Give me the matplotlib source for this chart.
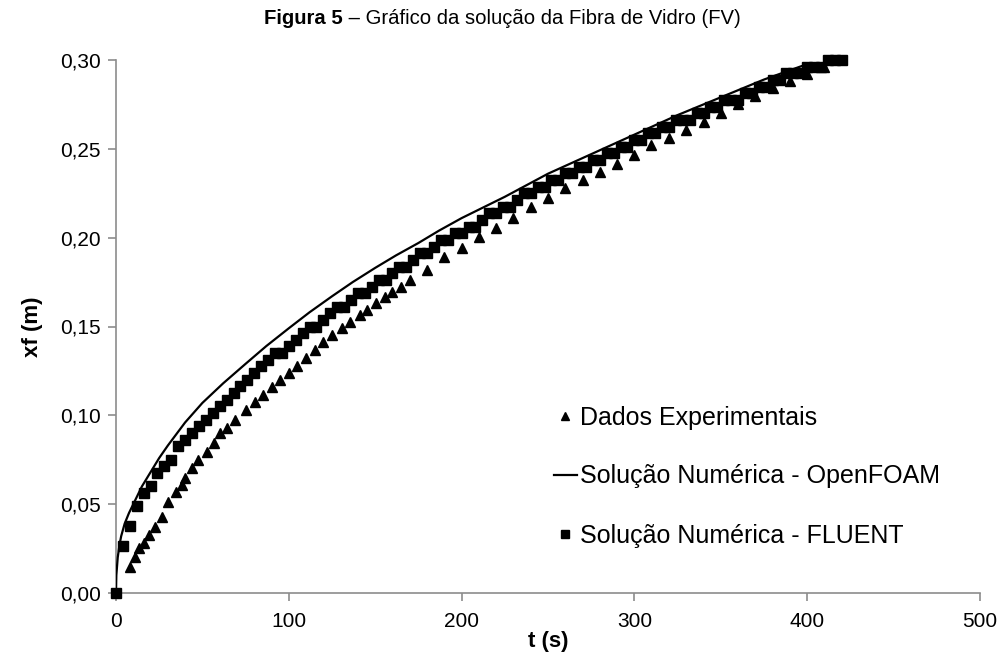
import matplotlib.pyplot as plt
from matplotlib.ticker import FuncFormatter

plt.rcParams['font.family'] = ['Liberation Sans', 'DejaVu Sans']

# Dados Experimentais (triangulos)
t_exp = [8, 11, 13.5, 16, 19, 22.5, 26.5, 30, 35, 38, 40, 44, 47.5, 52.5, 56.5, 60, 64, 69, 75, 80.5,
         85, 90, 95, 100, 105, 110, 115, 120, 125, 130.5, 135.5, 141, 145.5, 150.5, 155.5, 160, 165, 170,
         180, 190, 200, 210, 220, 230, 240, 250, 260, 270, 280, 290, 300, 309.5, 320, 330, 340, 350,
         360, 370, 380, 390, 400, 410]
xf_exp = [0.0148, 0.0204, 0.0251, 0.0280, 0.0326, 0.0373, 0.0430, 0.0514, 0.0570, 0.0608, 0.0645,
          0.0702, 0.0749, 0.0795, 0.0843, 0.0899, 0.0927, 0.0974, 0.1030, 0.1077, 0.1114, 0.1161,
          0.1199, 0.1240, 0.1280, 0.1325, 0.1370, 0.1410, 0.1452, 0.1490, 0.1527, 0.1565, 0.1593,
          0.1631, 0.1668, 0.1696, 0.1724, 0.1762, 0.1818, 0.1893, 0.1944, 0.2002, 0.2053, 0.2109,
          0.2171, 0.2222, 0.2278, 0.2325, 0.2371, 0.2415, 0.2465, 0.2522, 0.2560, 0.2606, 0.2650,
          0.2700, 0.2750, 0.2800, 0.2840, 0.2880, 0.2920, 0.2960]

# Solucao Numerica - OpenFOAM (linha)
t_foam = [0, 0.2, 1, 2, 3, 5, 7.5, 10, 15, 20, 25, 30, 40, 50, 62, 75, 87, 100, 112, 125, 137, 150,
          162, 175, 187, 200, 225, 250, 275, 300, 325, 350, 375, 398]
xf_foam = [0.0, 0.010, 0.020, 0.027, 0.032, 0.039, 0.045, 0.050, 0.060, 0.068, 0.076, 0.083, 0.096,
           0.107, 0.118, 0.129, 0.139, 0.149, 0.158, 0.167, 0.175, 0.183, 0.190, 0.197, 0.204, 0.211,
           0.223, 0.236, 0.247, 0.258, 0.269, 0.279, 0.289, 0.297]

# Solucao Numerica - FLUENT (quadrados)
t_fluent = [0, 4, 8, 12, 16, 20, 24, 28, 32, 36, 40, 44, 48, 52, 56, 60, 64, 68, 72, 76, 80, 84, 88,
            92, 96, 100, 104, 108, 112, 116, 120, 124, 128, 132, 136, 140, 144, 148, 152, 156, 160,
            164, 168, 172, 176, 180, 184, 188, 192, 196, 200, 204, 208, 212, 216, 220, 224, 228, 232,
            236, 240, 244, 248, 252, 256, 260, 264, 268, 272, 276, 280, 284, 288, 292, 296, 300, 304,
            308, 312, 316, 320, 324, 328, 332, 336, 340, 344, 348, 352, 356, 360, 364, 368, 372, 376,
            380, 384, 388, 392, 396, 400, 404, 408, 412, 416, 420]
xf_fluent = [0.0, 0.02625, 0.0375, 0.04875, 0.05625, 0.060, 0.0675, 0.07125, 0.075, 0.0825, 0.08625,
             0.090, 0.09375, 0.0975, 0.10125, 0.105, 0.10875, 0.1125, 0.11625, 0.120, 0.12375, 0.1275,
             0.13125, 0.135, 0.135, 0.13875, 0.1425, 0.14625, 0.150, 0.150, 0.15375, 0.1575, 0.16125,
             0.16125, 0.165, 0.16875, 0.16875, 0.1725, 0.17625, 0.17625, 0.180, 0.18375, 0.18375,
             0.1875, 0.19125, 0.19125, 0.195, 0.19875, 0.19875, 0.2025, 0.2025, 0.20625, 0.20625,
             0.210, 0.21375, 0.21375, 0.2175, 0.2175, 0.22125, 0.225, 0.225, 0.22875, 0.22875, 0.2325,
             0.2325, 0.23625, 0.23625, 0.240, 0.240, 0.24375, 0.24375, 0.2475, 0.2475, 0.25125,
             0.25125, 0.255, 0.255, 0.25875, 0.25875, 0.2625, 0.2625, 0.26625, 0.26625, 0.26625,
             0.270, 0.270, 0.27375, 0.27375, 0.2775, 0.2775, 0.2775, 0.28125, 0.28125, 0.285, 0.285,
             0.28875, 0.28875, 0.2925, 0.2925, 0.2925, 0.29625, 0.29625, 0.29625, 0.300, 0.300, 0.300]

fig = plt.figure(figsize=(10.05, 6.59), dpi=100)
ax = fig.add_axes([116 / 1005, 1 - 593 / 659, (980 - 116) / 1005, (593 - 60) / 659])

ax.plot(t_exp, xf_exp, linestyle='none', marker='^', markersize=7, color='black',
        label='Dados Experimentais', zorder=3, clip_on=False)
ax.plot(t_foam, xf_foam, color='black', linewidth=1.6, label='Solução Numérica - OpenFOAM', zorder=4)
ax.plot(t_fluent, xf_fluent, linestyle='none', marker='s', markersize=7.5, color='black',
        label='Solução Numérica - FLUENT', zorder=5, clip_on=False)

ax.set_xlim(0, 500)
ax.set_ylim(0, 0.30)
ax.set_xticks([0, 100, 200, 300, 400, 500])
ax.set_yticks([0, 0.05, 0.10, 0.15, 0.20, 0.25, 0.30])
ax.yaxis.set_major_formatter(FuncFormatter(lambda v, p: ('%.2f' % v).replace('.', ',')))

for side in ['top', 'right']:
    ax.spines[side].set_visible(False)
for side in ['left', 'bottom']:
    ax.spines[side].set_color('#8c8c8c')
    ax.spines[side].set_linewidth(1.2)
ax.tick_params(colors='#8c8c8c', labelcolor='black', length=6, width=1.2, labelsize=15)
ax.tick_params(axis='x', pad=8)
ax.tick_params(axis='y', pad=5)

ax.set_xlabel('t (s)', fontsize=16, fontweight='bold', labelpad=0)
ax.set_ylabel('xf (m)', fontsize=16, fontweight='bold', labelpad=12)

leg = ax.legend(loc='upper left', bbox_to_anchor=(541 / 1005, 1 - 393 / 659),
                bbox_transform=fig.transFigure, frameon=False, fontsize=18,
                handlelength=0.95, handletextpad=0.12, labelspacing=1.4, borderpad=0,
                markerscale=0.75)

t1 = fig.text(0.5, 1 - 19 / 659, 'Figura 5', fontsize=14.6, fontweight='bold', ha='left', va='center')
fig.canvas.draw()
r = fig.canvas.get_renderer()
bb1 = t1.get_window_extent(r)
t2 = fig.text(0, 1 - 19 / 659, ' – Gráfico da solução da Fibra de Vidro (FV)', fontsize=14.6,
              ha='left', va='center')
bb2 = t2.get_window_extent(r)
total = bb1.width + bb2.width
x0 = (1005 - total) / 2 / 1005
t1.set_x(x0)
t2.set_x(x0 + bb1.width / 1005)

fig.savefig('out.png', dpi=100)
